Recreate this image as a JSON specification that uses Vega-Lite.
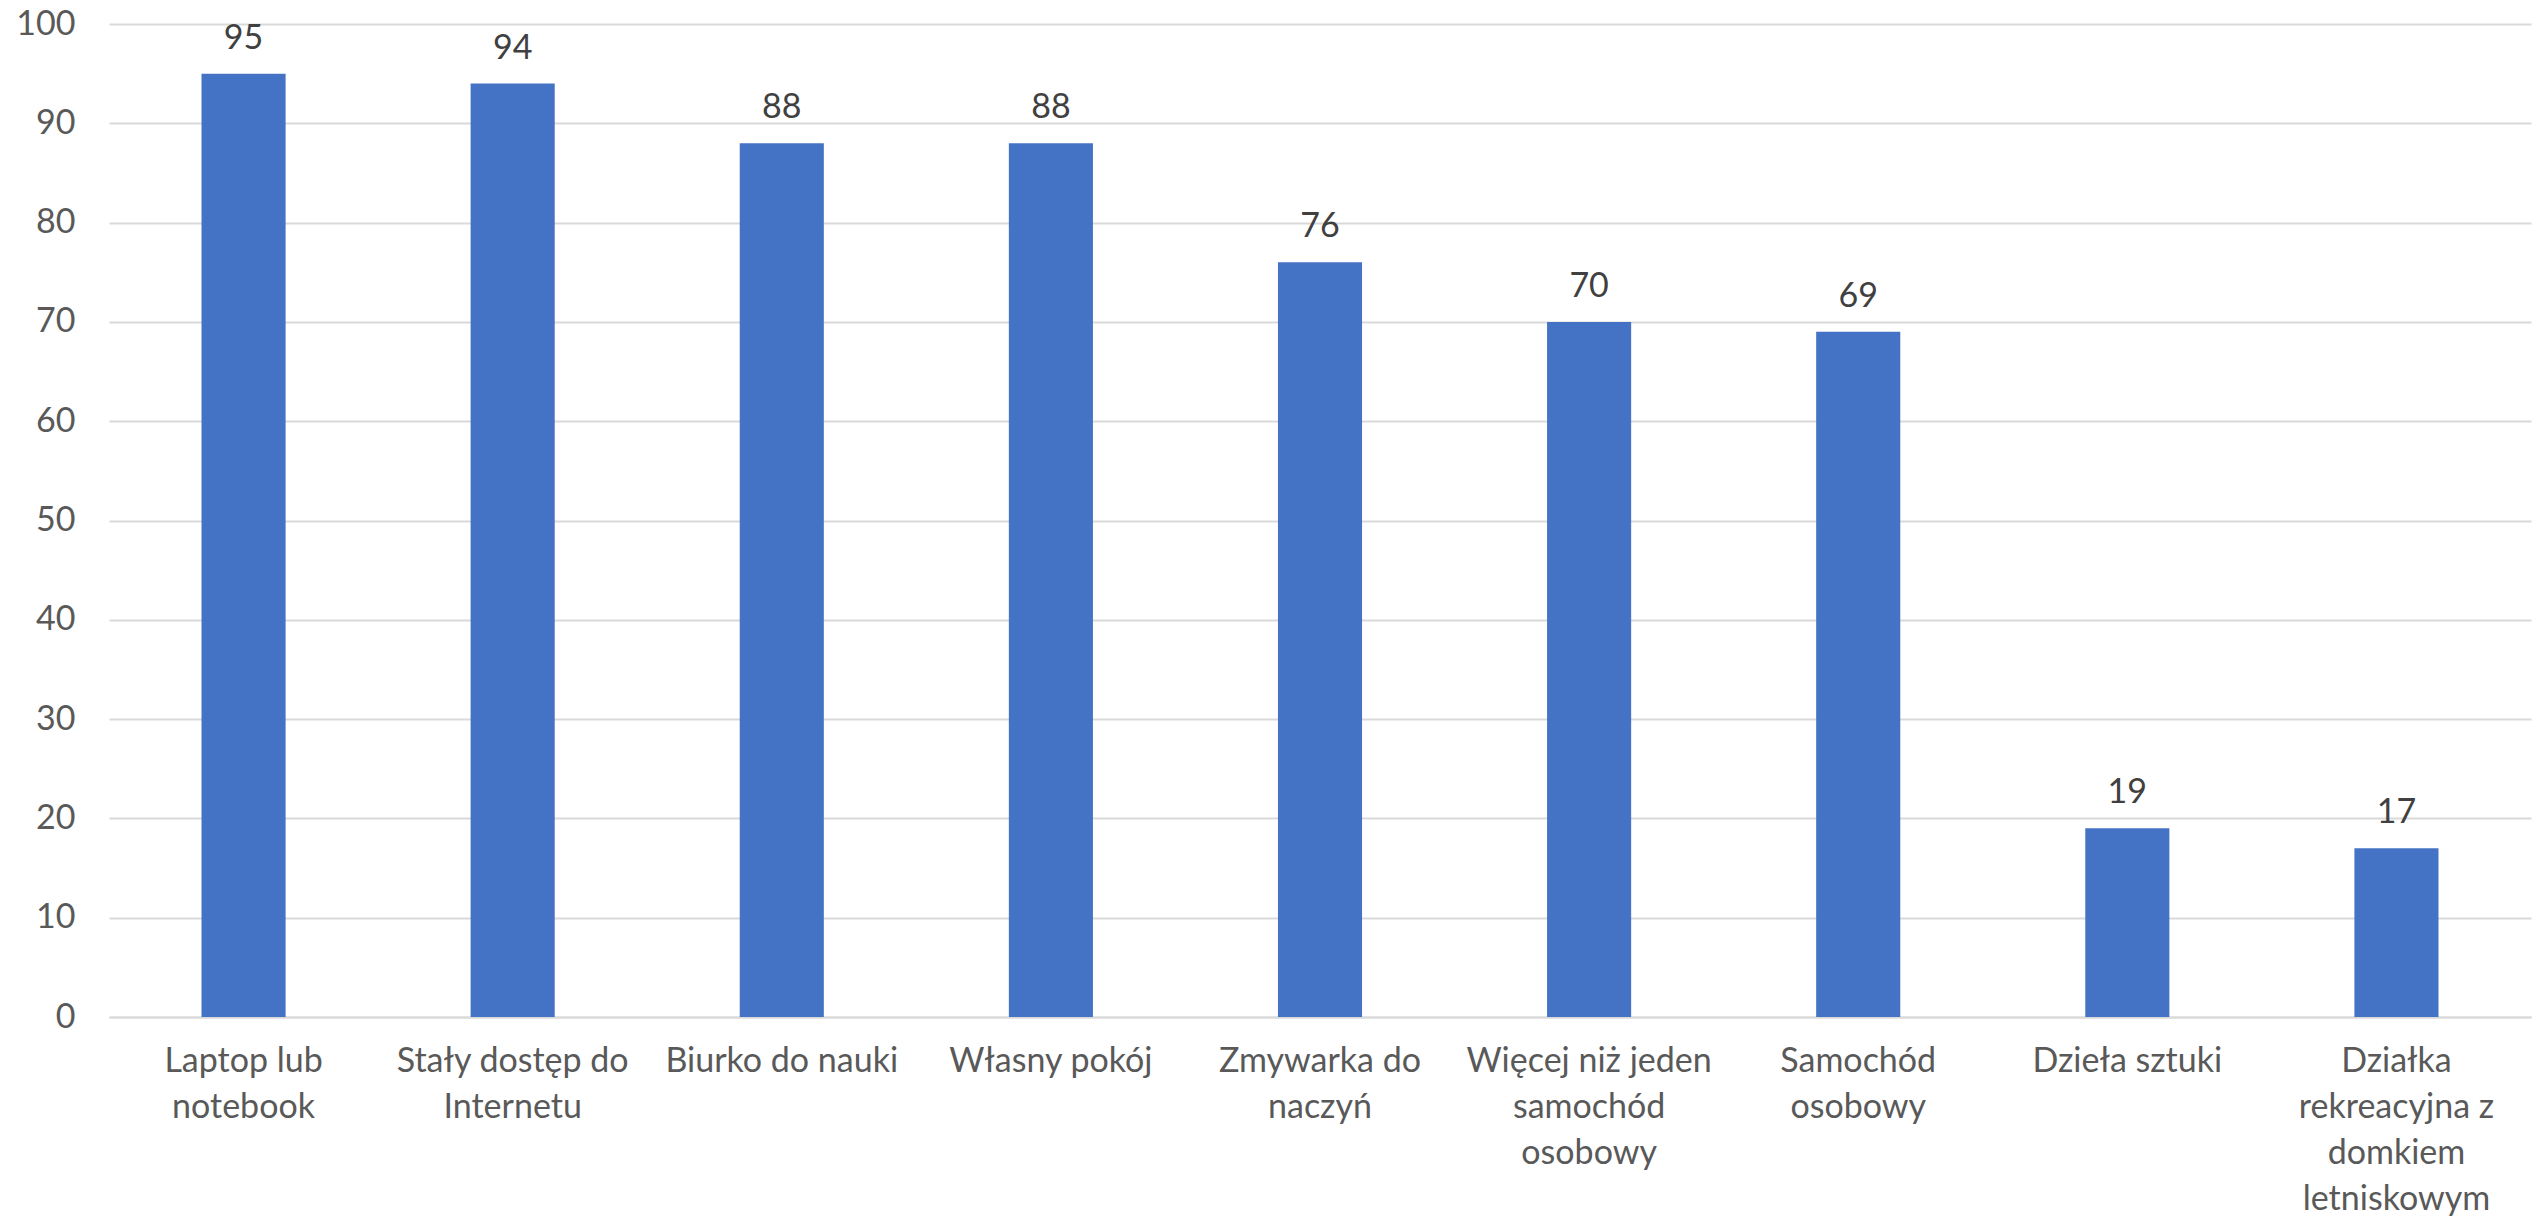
{
  "$schema": "https://vega.github.io/schema/vega-lite/v6.json",
  "autosize": {"type": "none"},
  "width": 2422,
  "height": 993,
  "padding": {"left": 109, "top": 24, "right": 8, "bottom": 204},
  "background": "white",
  "config": {
    "view": {"stroke": null},
    "font": "Lato"
  },
  "data": {
    "values": [
      {"kategoria": "Laptop lub notebook", "wartosc": 95},
      {"kategoria": "Stały dostęp do Internetu", "wartosc": 94},
      {"kategoria": "Biurko do nauki", "wartosc": 88},
      {"kategoria": "Własny pokój", "wartosc": 88},
      {"kategoria": "Zmywarka do naczyń", "wartosc": 76},
      {"kategoria": "Więcej niż jeden samochód osobowy", "wartosc": 70},
      {"kategoria": "Samochód osobowy", "wartosc": 69},
      {"kategoria": "Dzieła sztuki", "wartosc": 19},
      {"kategoria": "Działka rekreacyjna z domkiem letniskowym", "wartosc": 17}
    ]
  },
  "encoding": {
    "x": {
      "field": "kategoria",
      "type": "nominal",
      "sort": null,
      "scale": {"paddingInner": 0.6875, "paddingOuter": 0.34375},
      "axis": {
        "title": null,
        "labelAngle": 0,
        "labelFont": "Lato",
        "labelFontSize": 34,
        "labelColor": "#595959",
        "labelLineHeight": 46,
        "labelPadding": 27,
        "labelBaseline": "top",
        "ticks": false,
        "domain": true,
        "domainColor": "#D9D9D9",
        "domainWidth": 2,
        "labelLimit": 400,
        "labelExpr": "({'Laptop lub notebook': ['Laptop lub', 'notebook'], 'Stały dostęp do Internetu': ['Stały dostęp do', 'Internetu'], 'Biurko do nauki': ['Biurko do nauki'], 'Własny pokój': ['Własny pokój'], 'Zmywarka do naczyń': ['Zmywarka do', 'naczyń'], 'Więcej niż jeden samochód osobowy': ['Więcej niż jeden', 'samochód', 'osobowy'], 'Samochód osobowy': ['Samochód', 'osobowy'], 'Dzieła sztuki': ['Dzieła sztuki'], 'Działka rekreacyjna z domkiem letniskowym': ['Działka', 'rekreacyjna z', 'domkiem', 'letniskowym']})[datum.value]"
      }
    },
    "y": {
      "field": "wartosc",
      "type": "quantitative",
      "scale": {"domain": [0, 100]},
      "axis": {
        "title": null,
        "values": [0, 10, 20, 30, 40, 50, 60, 70, 80, 90, 100],
        "labelFont": "Lato",
        "labelFontSize": 34,
        "labelColor": "#595959",
        "labelPadding": 34,
        "ticks": false,
        "domain": false,
        "grid": true,
        "gridColor": "#D9D9D9",
        "gridWidth": 2
      }
    }
  },
  "layer": [
    {"mark": {"type": "bar", "color": "#4472C4"}},
    {
      "mark": {"type": "text", "baseline": "bottom", "dy": -18, "fontSize": 34, "font": "Lato", "color": "#404040"},
      "encoding": {"text": {"field": "wartosc", "type": "quantitative"}}
    }
  ]
}
